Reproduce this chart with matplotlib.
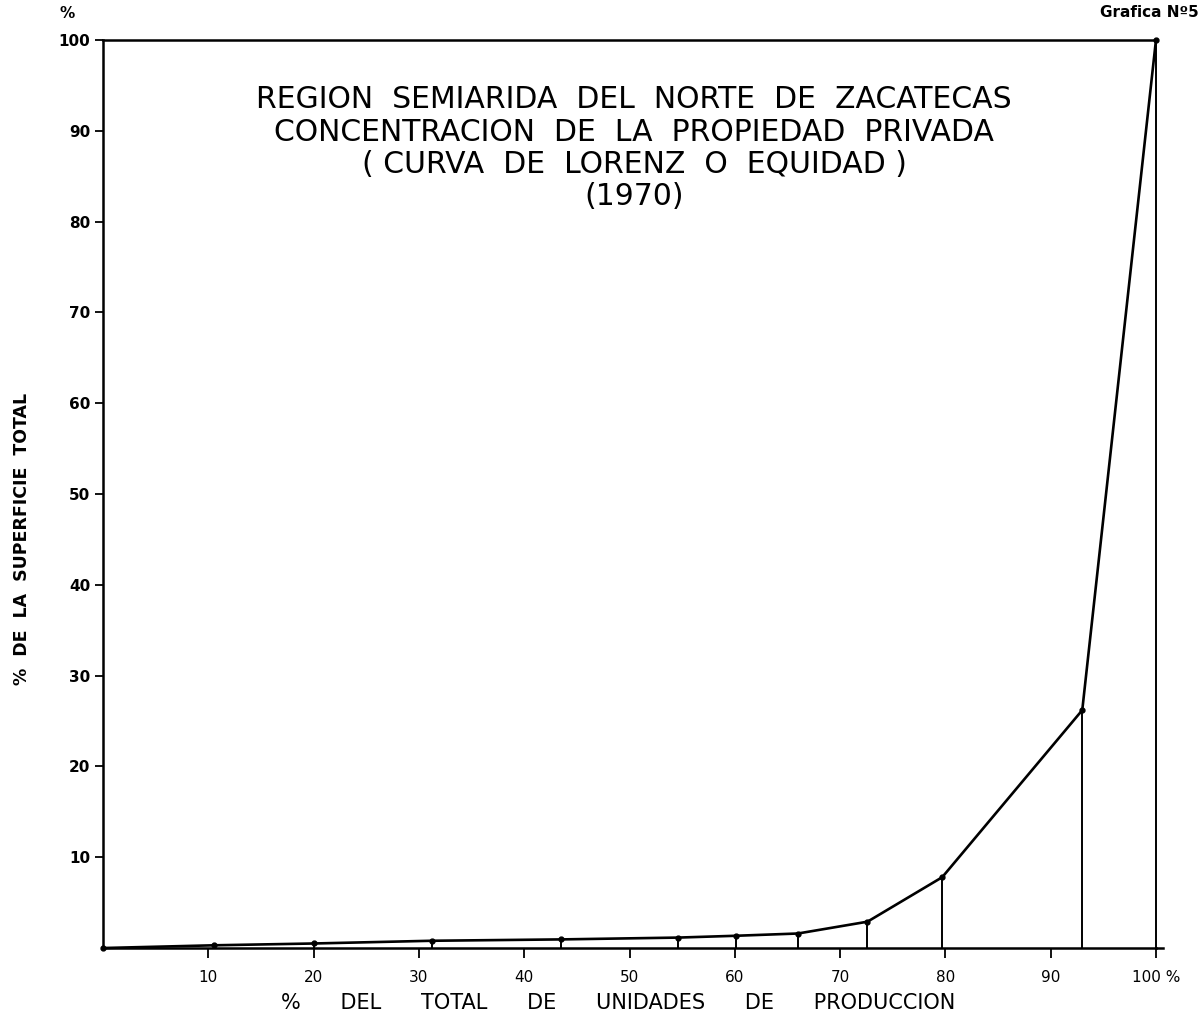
import numpy as np
import matplotlib.pyplot as plt

# cumulative % of production units vs cumulative % of surface
pct_unidades = [0, 10.5, 20.0, 31.2, 43.5, 54.6, 60.1, 66.0, 72.6, 79.7, 93.0, 100.0]
pct_superficie = [0, 0.3, 0.5, 0.8, 0.95, 1.15, 1.35, 1.6, 2.9, 7.8, 26.2, 100.0]

xticks = [10, 20, 30, 40, 50, 60, 70, 80, 90, 100]
xtick_labels = ["10", "20", "30", "40", "50", "60", "70", "80", "90", "100 %"]
yticks = [10, 20, 30, 40, 50, 60, 70, 80, 90, 100]

titulo = ["REGION  SEMIARIDA  DEL  NORTE  DE  ZACATECAS",
          "CONCENTRACION  DE  LA  PROPIEDAD  PRIVADA",
          "( CURVA  DE  LORENZ  O  EQUIDAD )",
          "(1970)"]

plt.rcParams['font.family'] = ['DejaVu Sans']
fig = plt.figure(figsize=(12.01, 10.16), dpi=100)
ax = fig.add_axes([0.0858, 0.0669, 0.8767, 0.8937])

ax.plot(pct_unidades, pct_superficie, color='black', lw=1.9, marker='o', ms=3.5,
        clip_on=False, zorder=3)
ax.vlines(pct_unidades[1:], 0, pct_superficie[1:], color='black', lw=1.4, zorder=2,
          clip_on=False)
ax.plot([100, 100.7], [0, 0], color='black', lw=1.8, clip_on=False)

ax.set_xlim(0, 100)
ax.set_ylim(0, 100)
for s in ['left', 'bottom', 'top']:
    ax.spines[s].set_linewidth(1.8)
ax.spines['right'].set_visible(False)

ax.set_xticks(xticks)
ax.set_xticklabels(xtick_labels, fontsize=11)
ax.set_yticks(yticks)
ax.set_yticklabels([str(v) for v in yticks], fontsize=11, fontweight='bold')
ax.tick_params(axis='x', direction='out', length=7, width=1.3, pad=9)
ax.tick_params(axis='y', direction='out', length=6, width=1.3, pad=3)

ax.set_xlabel("%      DEL      TOTAL      DE      UNIDADES      DE      PRODUCCION",
              fontsize=15)
ax.xaxis.set_label_coords(0.489, -0.049)
ax.set_ylabel("%  DE  LA  SUPERFICIE  TOTAL", fontsize=12.5, fontweight='bold')
ax.yaxis.set_label_coords(-0.068, 0.45)

fig.text(0.056, 0.987, "%", fontsize=11, fontweight='bold', ha='center', va='center')
fig.text(0.957, 0.988, "Grafica Nº5", fontsize=11, fontweight='bold', ha='center',
         va='center')

for i, linea in enumerate(titulo):
    fig.text(0.528, 0.9016 - i * 0.0318, linea, fontsize=21.5, ha='center', va='center')

fig.savefig("out.png", dpi=100)
